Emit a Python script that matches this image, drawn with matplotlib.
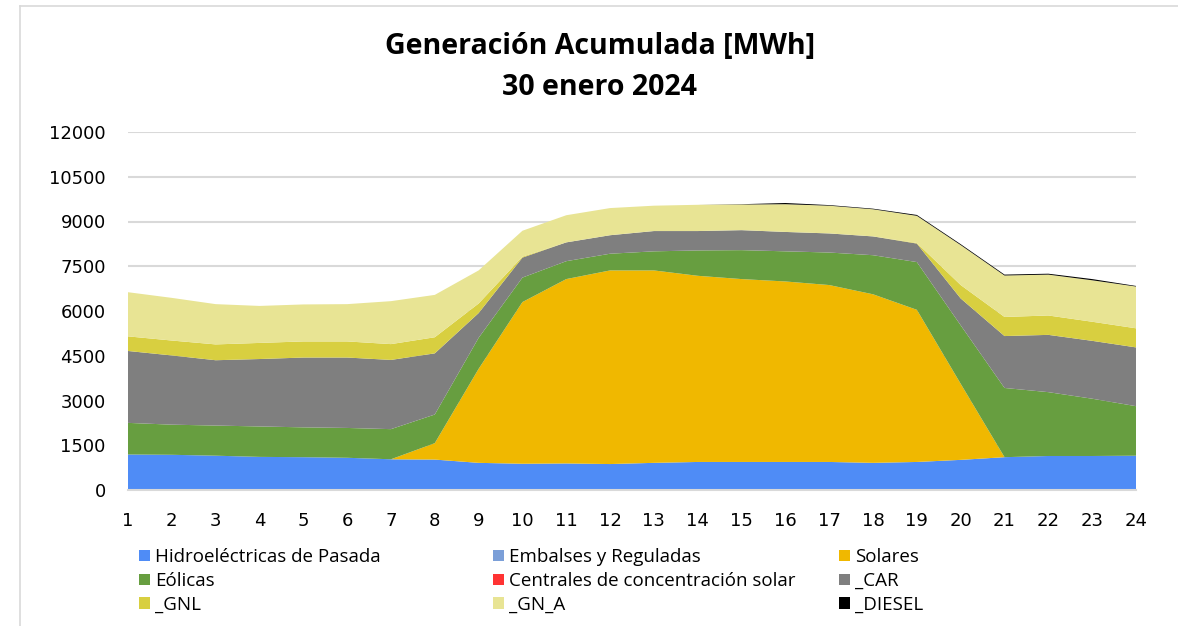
import matplotlib
matplotlib.use("Agg")
import matplotlib.pyplot as plt
from matplotlib.patches import Patch
from matplotlib.lines import Line2D

plt.rcParams['font.family'] = ['Open Sans', 'DejaVu Sans']

# hours of the day
horas = list(range(1, 25))

# generation by source [MWh]
hidro_pasada = [1190, 1180, 1150, 1110, 1100, 1080, 1030, 1020, 910, 880, 890, 870,
                910, 940, 940, 940, 940, 910, 940, 1010, 1100, 1140, 1140, 1150]
embalses = [0] * 24
solares = [0, 0, 0, 0, 0, 0, 0, 550, 3150, 5420, 6180, 6490,
           6450, 6240, 6130, 6050, 5930, 5650, 5100, 2550, 0, 0, 0, 0]
eolicas = [1060, 1010, 1010, 1020, 1000, 1000, 1010, 960, 1040, 820, 600, 560,
           640, 850, 970, 1010, 1090, 1310, 1600, 1960, 2320, 2140, 1920, 1660]
concentracion = [0] * 24
car = [2410, 2320, 2190, 2260, 2340, 2360, 2320, 2050, 830, 670, 630, 620,
       680, 650, 670, 650, 640, 630, 620, 900, 1740, 1920, 1940, 1970]
gnl = [490, 500, 530, 540, 540, 540, 530, 540, 320, 30, 0, 0,
       0, 0, 0, 0, 0, 0, 20, 450, 640, 650, 640, 640]
gn_a = [1480, 1430, 1350, 1240, 1240, 1250, 1440, 1420, 1110, 870, 910, 910,
        850, 880, 860, 930, 930, 910, 910, 1340, 1390, 1370, 1390, 1400]
diesel = [0, 0, 0, 0, 0, 0, 0, 0, 0, 0, 0, 0,
          0, 0, 10, 40, 20, 20, 30, 30, 30, 30, 40, 20]

nombres = ['Hidroeléctricas de Pasada', 'Embalses y Reguladas', 'Solares', 'Eólicas',
           'Centrales de concentración solar', '_CAR', '_GNL', '_GN_A', '_DIESEL']
colores = ['#4f8cf6', '#7b9fd8', '#f0b800', '#679e40', '#ff3333',
           '#7f7f7f', '#d8cf40', '#e8e494', '#000000']

fig = plt.figure(figsize=(11.78, 6.26), dpi=100)
ax = fig.add_axes([128/1178, 1-490/626, (1136-128)/1178, (490-132)/626])

ax.stackplot(horas, hidro_pasada, embalses, solares, eolicas, concentracion,
             car, gnl, gn_a, diesel, colors=colores, linewidth=0)

ax.set_xlim(1, 24)
ax.set_ylim(0, 12000)
ax.set_xticks(horas)
ax.set_yticks(range(0, 12001, 1500))
ax.grid(axis='y', color='#d9d9d9', linewidth=1.5, zorder=0)
ax.set_axisbelow(True)
for s in ['top', 'right', 'left']:
    ax.spines[s].set_visible(False)
ax.spines['bottom'].set_color('#d9d9d9')
ax.spines['bottom'].set_linewidth(1.5)
ax.tick_params(axis='both', length=0, labelsize=13, colors='#000000')
ax.tick_params(axis='x', pad=16)
ax.tick_params(axis='y', pad=16)
for lab in ax.get_xticklabels() + ax.get_yticklabels():
    lab.set_family('DejaVu Sans')

fig.text(0.509, 0.925, 'Generación Acumulada [MWh]', ha='center', va='center',
         fontsize=20.5, fontweight='bold')
fig.text(0.509, 0.860, '30 enero 2024', ha='center', va='center',
         fontsize=20.5, fontweight='bold')

# legend in three fixed columns, like the original
handles = [Patch(facecolor=c, edgecolor='none') for c in colores]
xcols = [130/1178, 484/1178, 830/1178]
for k in range(3):
    idx = [k, k + 3, k + 6]
    fig.legend([handles[i] for i in idx], [nombres[i] for i in idx],
               loc='upper left', bbox_to_anchor=(xcols[k], 1-539/626),
               frameon=False, fontsize=13.5, handlelength=0.55, handleheight=0.55,
               handletextpad=0.3, labelspacing=0.3, borderpad=0)

# outer frame lines
fig.add_artist(Line2D([20/1178, 1], [1-6/626, 1-6/626], color='#d9d9d9', linewidth=1.2))
fig.add_artist(Line2D([20/1178, 20/1178], [0, 1-6/626], color='#d9d9d9', linewidth=1.2))

fig.savefig('out.png', dpi=100)
